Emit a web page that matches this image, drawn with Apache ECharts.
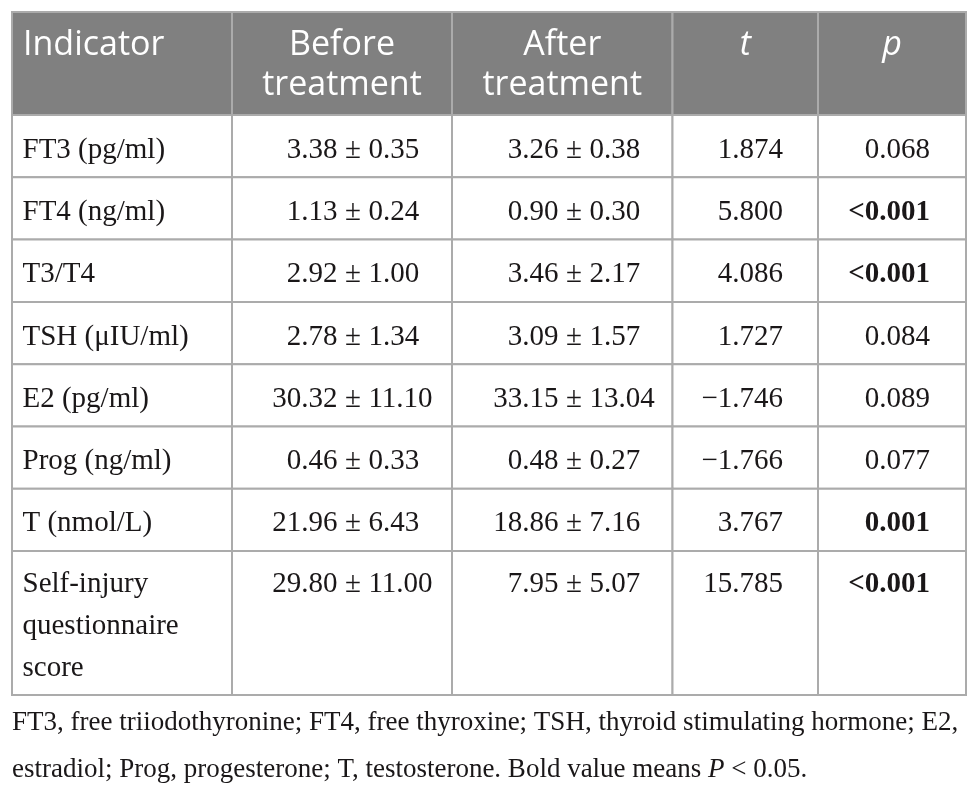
<!DOCTYPE html>
<html>
<head>
<meta charset="utf-8">
<title>Thyroid and sex hormone indicators before and after treatment</title>
<script src="https://cdn.jsdelivr.net/npm/echarts@6/dist/echarts.min.js"></script>
<style>
html, body { margin: 0; padding: 0; background: #fff; }
#hormoneTable { width: 979px; height: 793px; }
</style>
</head>
<body>
<div id="hormoneTable"></div>
<script>
// table content
var headers = ['Indicator', 'Before\ntreatment', 'After\ntreatment', 't', 'p'];
var indicators = ['FT3 (pg/ml)', 'FT4 (ng/ml)', 'T3/T4', 'TSH (\u03bcIU/ml)', 'E2 (pg/ml)',
    'Prog (ng/ml)', 'T (nmol/L)', 'Self-injury\nquestionnaire\nscore'];
var beforeMean = [3.38, 1.13, 2.92, 2.78, 30.32, 0.46, 21.96, 29.80];
var beforeSd = [0.35, 0.24, 1.00, 1.34, 11.10, 0.33, 6.43, 11.00];
var afterMean = [3.26, 0.90, 3.46, 3.09, 33.15, 0.48, 18.86, 7.95];
var afterSd = [0.38, 0.30, 2.17, 1.57, 13.04, 0.27, 7.16, 5.07];
var tValues = [1.874, 5.800, 4.086, 1.727, -1.746, -1.766, 3.767, 15.785];
var pValues = ['0.068', '<0.001', '<0.001', '0.084', '0.089', '0.077', '0.001', '<0.001'];
var pBold = [false, true, true, false, false, false, true, true];
var footnotes = [
    'FT3, free triiodothyronine; FT4, free thyroxine; TSH, thyroid stimulating hormone; E2,',
    'estradiol; Prog, progesterone; T, testosterone. Bold value means {i|P} < 0.05.'
];

// layout (table units = px inside the grid)
var colEdges = [0, 220, 440, 660.5, 806, 954];
var headerH = 103;
var rowH = 62.3;
var tableH = 683;
var headFill = '#808080';
var lineColor = '#ababab';
var textColor = '#1a1718';
var serif = '"Liberation Serif", "Times New Roman", serif';
var sans = '"Open Sans", "Noto Sans", sans-serif';

function rowTop(r) {
    return r === 0 ? 0 : headerH + (r - 1) * rowH;
}
function rowBottom(r) {
    if (r === 0) return headerH;
    if (r === indicators.length) return tableH;
    return headerH + r * rowH;
}
function fmtT(v) {
    return v.toFixed(3).replace('-', '\u2212');
}

function bodyText(text, x, y, align, bold) {
    return {
        type: 'text',
        style: {
            text: text, x: x, y: y, align: align, verticalAlign: 'top',
            fill: textColor, fontFamily: serif, fontSize: 29, lineHeight: 42,
            fontWeight: bold ? 'bold' : 'normal'
        }
    };
}

// mean ± sd, lined up on the ± sign
function pmText(mean, sd, ax, y) {
    return [
        bodyText(mean.toFixed(2) + ' ', ax - 8.2, y, 'right'),
        bodyText('\u00b1', ax, y, 'center'),
        bodyText(' ' + sd.toFixed(2), ax + 8.2, y, 'left')
    ];
}

function renderCell(params, api) {
    var c = api.value(0);
    var r = api.value(1);
    var p0 = api.coord([colEdges[c], rowTop(r)]);
    var p1 = api.coord([colEdges[c + 1], rowBottom(r)]);
    var x = p0[0], y = p0[1], w = p1[0] - p0[0], h = p1[1] - p0[1];
    var children = [{
        type: 'rect',
        shape: { x: x, y: y, width: w, height: h },
        style: { fill: r === 0 ? headFill : '#fff', stroke: lineColor, lineWidth: 2 }
    }];
    if (r === 0) {
        children.push({
            type: 'text',
            style: {
                text: headers[c],
                x: c === 0 ? x + 11 : x + w / 2,
                y: y + 13.5,
                align: c === 0 ? 'left' : 'center',
                verticalAlign: 'top',
                fill: '#fff',
                fontFamily: sans,
                fontSize: 34,
                fontStyle: c >= 3 ? 'italic' : 'normal',
                lineHeight: 40
            }
        });
        return { type: 'group', children: children };
    }
    var i = r - 1;
    var ty = r === indicators.length ? y + 12 : y + 14;
    if (c === 0) {
        children.push(bodyText(indicators[i], x + 10.5, ty, 'left'));
    } else if (c === 1) {
        children = children.concat(pmText(beforeMean[i], beforeSd[i], x + 121, ty));
    } else if (c === 2) {
        children = children.concat(pmText(afterMean[i], afterSd[i], x + 122, ty));
    } else if (c === 3) {
        children.push(bodyText(fmtT(tValues[i]), x + w - 35, ty, 'right'));
    } else {
        children.push(bodyText(pValues[i], x + w - 36, ty, 'right', pBold[i]));
    }
    return { type: 'group', children: children };
}

var cellData = [];
for (var r = 0; r <= indicators.length; r++) {
    for (var c = 0; c < headers.length; c++) {
        cellData.push([c, r]);
    }
}

var myChart = echarts.init(document.getElementById('hormoneTable'));
var option = {
    animation: false,
    backgroundColor: '#fff',
    grid: { left: 12, top: 12, width: 954, height: tableH },
    xAxis: { type: 'value', min: 0, max: 954, show: false },
    yAxis: { type: 'value', min: 0, max: tableH, inverse: true, show: false },
    series: [{
        type: 'custom',
        renderItem: renderCell,
        data: cellData,
        silent: true
    }],
    graphic: footnotes.map(function (line, k) {
        return {
            type: 'text',
            x: 12,
            y: 723 + k * 47,
            silent: true,
            style: {
                text: line,
                verticalAlign: 'middle',
                fill: textColor,
                fontFamily: serif,
                fontSize: 27,
                rich: {
                    i: { fontStyle: 'italic', fontFamily: serif, fontSize: 27, fill: textColor }
                }
            }
        };
    })
};
myChart.setOption(option);
</script>
</body>
</html>
